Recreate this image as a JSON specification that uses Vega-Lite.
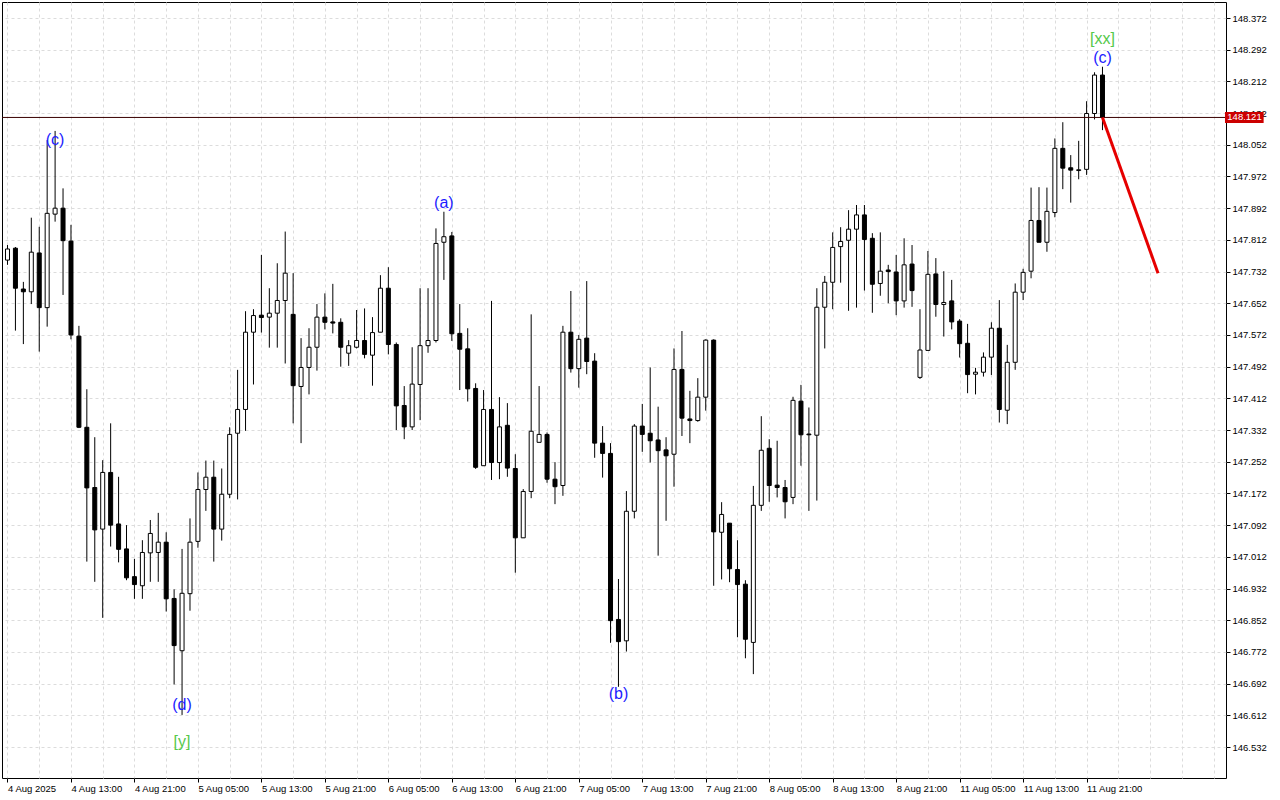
{
  "$schema": "https://vega.github.io/schema/vega-lite/v6.json",
  "width": 1224,
  "height": 776,
  "autosize": {"type": "none"},
  "padding": {"left": 2, "top": 2, "right": 54, "bottom": 22},
  "background": "#ffffff",
  "config": {
    "view": {"stroke": "#000000", "strokeWidth": 1, "fill": "#ffffff"},
    "axis": {"domain": false, "labelFont": "Liberation Sans", "labelFontSize": 9.5, "labelColor": "#000000", "tickColor": "#000000", "gridColor": "#dcdcdc", "gridDash": [3, 3], "gridWidth": 1}
  },
  "datasets": {
    "candles": [
      {"k":0,"o":147.761,"h":147.799,"l":147.749,"c":147.789},
      {"k":1,"o":147.791,"h":147.794,"l":147.583,"c":147.690},
      {"k":2,"o":147.688,"h":147.706,"l":147.549,"c":147.681},
      {"k":3,"o":147.681,"h":147.868,"l":147.650,"c":147.781},
      {"k":4,"o":147.779,"h":147.845,"l":147.530,"c":147.641},
      {"k":5,"o":147.641,"h":148.064,"l":147.593,"c":147.879},
      {"k":6,"o":147.877,"h":148.087,"l":147.858,"c":147.892},
      {"k":7,"o":147.892,"h":147.942,"l":147.673,"c":147.810},
      {"k":8,"o":147.809,"h":147.850,"l":147.561,"c":147.572},
      {"k":9,"o":147.569,"h":147.595,"l":147.337,"c":147.339},
      {"k":10,"o":147.339,"h":147.435,"l":147.000,"c":147.186},
      {"k":11,"o":147.187,"h":147.314,"l":146.949,"c":147.080},
      {"k":12,"o":147.082,"h":147.256,"l":146.858,"c":147.225},
      {"k":13,"o":147.225,"h":147.349,"l":147.038,"c":147.092},
      {"k":14,"o":147.095,"h":147.214,"l":146.998,"c":147.031},
      {"k":15,"o":147.032,"h":147.092,"l":146.953,"c":146.959},
      {"k":16,"o":146.962,"h":147.007,"l":146.906,"c":146.942},
      {"k":17,"o":146.939,"h":147.054,"l":146.906,"c":147.023},
      {"k":18,"o":147.022,"h":147.105,"l":146.949,"c":147.071},
      {"k":19,"o":147.023,"h":147.123,"l":146.949,"c":147.049},
      {"k":20,"o":147.049,"h":147.074,"l":146.874,"c":146.906},
      {"k":21,"o":146.907,"h":146.930,"l":146.690,"c":146.788},
      {"k":22,"o":146.775,"h":147.032,"l":146.613,"c":146.920},
      {"k":23,"o":146.919,"h":147.109,"l":146.876,"c":147.049},
      {"k":24,"o":147.051,"h":147.225,"l":147.035,"c":147.182},
      {"k":25,"o":147.182,"h":147.255,"l":147.128,"c":147.213},
      {"k":26,"o":147.213,"h":147.255,"l":147.000,"c":147.082},
      {"k":27,"o":147.082,"h":147.235,"l":147.053,"c":147.170},
      {"k":28,"o":147.170,"h":147.339,"l":147.160,"c":147.321},
      {"k":29,"o":147.324,"h":147.484,"l":147.157,"c":147.384},
      {"k":30,"o":147.384,"h":147.632,"l":147.330,"c":147.579},
      {"k":31,"o":147.579,"h":147.637,"l":147.447,"c":147.621},
      {"k":32,"o":147.622,"h":147.774,"l":147.578,"c":147.616},
      {"k":33,"o":147.617,"h":147.690,"l":147.540,"c":147.627},
      {"k":34,"o":147.627,"h":147.753,"l":147.540,"c":147.659},
      {"k":35,"o":147.659,"h":147.833,"l":147.500,"c":147.728},
      {"k":36,"o":147.624,"h":147.728,"l":147.349,"c":147.444},
      {"k":37,"o":147.442,"h":147.564,"l":147.299,"c":147.490},
      {"k":38,"o":147.490,"h":147.589,"l":147.422,"c":147.541},
      {"k":39,"o":147.541,"h":147.650,"l":147.482,"c":147.617},
      {"k":40,"o":147.617,"h":147.677,"l":147.586,"c":147.604},
      {"k":41,"o":147.605,"h":147.701,"l":147.576,"c":147.602},
      {"k":42,"o":147.604,"h":147.614,"l":147.492,"c":147.541},
      {"k":43,"o":147.526,"h":147.559,"l":147.494,"c":147.545},
      {"k":44,"o":147.541,"h":147.635,"l":147.538,"c":147.558},
      {"k":45,"o":147.558,"h":147.639,"l":147.513,"c":147.523},
      {"k":46,"o":147.521,"h":147.617,"l":147.444,"c":147.578},
      {"k":47,"o":147.579,"h":147.723,"l":147.579,"c":147.690},
      {"k":48,"o":147.690,"h":147.743,"l":147.523,"c":147.548},
      {"k":49,"o":147.548,"h":147.553,"l":147.332,"c":147.393},
      {"k":50,"o":147.394,"h":147.443,"l":147.309,"c":147.340},
      {"k":51,"o":147.340,"h":147.541,"l":147.332,"c":147.448},
      {"k":52,"o":147.447,"h":147.690,"l":147.357,"c":147.545},
      {"k":53,"o":147.545,"h":147.690,"l":147.527,"c":147.558},
      {"k":54,"o":147.558,"h":147.841,"l":147.553,"c":147.803},
      {"k":55,"o":147.806,"h":147.883,"l":147.711,"c":147.820},
      {"k":56,"o":147.822,"h":147.832,"l":147.557,"c":147.575},
      {"k":57,"o":147.576,"h":147.650,"l":147.433,"c":147.536},
      {"k":58,"o":147.537,"h":147.589,"l":147.404,"c":147.436},
      {"k":59,"o":147.437,"h":147.450,"l":147.234,"c":147.238},
      {"k":60,"o":147.242,"h":147.433,"l":147.242,"c":147.384},
      {"k":61,"o":147.384,"h":147.658,"l":147.206,"c":147.250},
      {"k":62,"o":147.250,"h":147.415,"l":147.208,"c":147.340},
      {"k":63,"o":147.344,"h":147.400,"l":147.214,"c":147.236},
      {"k":64,"o":147.235,"h":147.271,"l":146.972,"c":147.060},
      {"k":65,"o":147.060,"h":147.183,"l":147.060,"c":147.177},
      {"k":66,"o":147.177,"h":147.624,"l":147.160,"c":147.329},
      {"k":67,"o":147.301,"h":147.443,"l":147.301,"c":147.321},
      {"k":68,"o":147.321,"h":147.326,"l":147.199,"c":147.208},
      {"k":69,"o":147.208,"h":147.251,"l":147.145,"c":147.189},
      {"k":70,"o":147.192,"h":147.595,"l":147.166,"c":147.579},
      {"k":71,"o":147.579,"h":147.683,"l":147.477,"c":147.487},
      {"k":72,"o":147.487,"h":147.572,"l":147.439,"c":147.561},
      {"k":73,"o":147.564,"h":147.708,"l":147.473,"c":147.505},
      {"k":74,"o":147.506,"h":147.526,"l":147.262,"c":147.299},
      {"k":75,"o":147.299,"h":147.342,"l":147.212,"c":147.273},
      {"k":76,"o":147.273,"h":147.299,"l":146.795,"c":146.851},
      {"k":77,"o":146.854,"h":146.956,"l":146.684,"c":146.798},
      {"k":78,"o":146.800,"h":147.178,"l":146.773,"c":147.127},
      {"k":79,"o":147.127,"h":147.347,"l":147.109,"c":147.342},
      {"k":80,"o":147.342,"h":147.398,"l":147.277,"c":147.321},
      {"k":81,"o":147.324,"h":147.490,"l":147.250,"c":147.305},
      {"k":82,"o":147.307,"h":147.391,"l":147.015,"c":147.280},
      {"k":83,"o":147.282,"h":147.314,"l":147.103,"c":147.267},
      {"k":84,"o":147.271,"h":147.538,"l":147.189,"c":147.485},
      {"k":85,"o":147.485,"h":147.582,"l":147.317,"c":147.362},
      {"k":86,"o":147.360,"h":147.431,"l":147.299,"c":147.356},
      {"k":87,"o":147.356,"h":147.463,"l":147.353,"c":147.415},
      {"k":88,"o":147.415,"h":147.561,"l":147.381,"c":147.559},
      {"k":89,"o":147.559,"h":147.561,"l":146.939,"c":147.075},
      {"k":90,"o":147.074,"h":147.150,"l":146.955,"c":147.119},
      {"k":91,"o":147.097,"h":147.097,"l":146.948,"c":146.982},
      {"k":92,"o":146.980,"h":147.054,"l":146.809,"c":146.942},
      {"k":93,"o":146.943,"h":146.953,"l":146.756,"c":146.804},
      {"k":94,"o":146.796,"h":147.191,"l":146.716,"c":147.142},
      {"k":95,"o":147.142,"h":147.367,"l":147.128,"c":147.281},
      {"k":96,"o":147.286,"h":147.309,"l":147.151,"c":147.192},
      {"k":97,"o":147.193,"h":147.305,"l":147.162,"c":147.187},
      {"k":98,"o":147.187,"h":147.206,"l":147.109,"c":147.151},
      {"k":99,"o":147.162,"h":147.416,"l":147.145,"c":147.407},
      {"k":100,"o":147.405,"h":147.446,"l":147.242,"c":147.320},
      {"k":101,"o":147.322,"h":147.389,"l":147.128,"c":147.320},
      {"k":102,"o":147.319,"h":147.690,"l":147.154,"c":147.642},
      {"k":103,"o":147.642,"h":147.721,"l":147.538,"c":147.705},
      {"k":104,"o":147.705,"h":147.831,"l":147.637,"c":147.793},
      {"k":105,"o":147.795,"h":147.844,"l":147.704,"c":147.808},
      {"k":106,"o":147.811,"h":147.887,"l":147.633,"c":147.839},
      {"k":107,"o":147.839,"h":147.900,"l":147.641,"c":147.875},
      {"k":108,"o":147.875,"h":147.900,"l":147.684,"c":147.813},
      {"k":109,"o":147.816,"h":147.829,"l":147.628,"c":147.700},
      {"k":110,"o":147.702,"h":147.831,"l":147.671,"c":147.733},
      {"k":111,"o":147.736,"h":147.749,"l":147.652,"c":147.732},
      {"k":112,"o":147.731,"h":147.774,"l":147.622,"c":147.658},
      {"k":113,"o":147.658,"h":147.816,"l":147.641,"c":147.749},
      {"k":114,"o":147.751,"h":147.799,"l":147.643,"c":147.684},
      {"k":115,"o":147.465,"h":147.637,"l":147.461,"c":147.534},
      {"k":116,"o":147.533,"h":147.784,"l":147.533,"c":147.725},
      {"k":117,"o":147.726,"h":147.766,"l":147.618,"c":147.649},
      {"k":118,"o":147.649,"h":147.733,"l":147.568,"c":147.654},
      {"k":119,"o":147.658,"h":147.711,"l":147.586,"c":147.605},
      {"k":120,"o":147.607,"h":147.612,"l":147.515,"c":147.550},
      {"k":121,"o":147.551,"h":147.600,"l":147.425,"c":147.472},
      {"k":122,"o":147.473,"h":147.489,"l":147.422,"c":147.478},
      {"k":123,"o":147.478,"h":147.528,"l":147.467,"c":147.516},
      {"k":124,"o":147.516,"h":147.604,"l":147.471,"c":147.589},
      {"k":125,"o":147.589,"h":147.660,"l":147.351,"c":147.384},
      {"k":126,"o":147.382,"h":147.547,"l":147.347,"c":147.503},
      {"k":127,"o":147.503,"h":147.702,"l":147.484,"c":147.680},
      {"k":128,"o":147.680,"h":147.739,"l":147.660,"c":147.730},
      {"k":129,"o":147.733,"h":147.944,"l":147.715,"c":147.861},
      {"k":130,"o":147.861,"h":147.945,"l":147.806,"c":147.806},
      {"k":131,"o":147.806,"h":147.944,"l":147.782,"c":147.884},
      {"k":132,"o":147.881,"h":148.068,"l":147.869,"c":148.043},
      {"k":133,"o":148.043,"h":148.109,"l":147.940,"c":147.993},
      {"k":134,"o":147.994,"h":148.026,"l":147.906,"c":147.988},
      {"k":135,"o":147.987,"h":148.062,"l":147.965,"c":147.989},
      {"k":136,"o":147.990,"h":148.162,"l":147.976,"c":148.131},
      {"k":137,"o":148.131,"h":148.235,"l":148.116,"c":148.228},
      {"k":138,"o":148.228,"h":148.249,"l":148.089,"c":148.121}
    ],
    "notes": [
      {"k":6,"p":148.064,"t":"(c)","g":"wave"},
      {"k":55,"p":147.905,"t":"(a)","g":"wave"},
      {"k":22,"p":146.638,"t":"(d)","g":"wave"},
      {"k":22,"p":146.545,"t":"[y]","g":"degree"},
      {"k":77,"p":146.666,"t":"(b)","g":"wave"},
      {"k":138,"p":148.319,"t":"[xx]","g":"degree"},
      {"k":138,"p":148.271,"t":"(c)","g":"wave"}
    ],
    "last": [{"p":148.121}],
    "forecast": [{"k":138,"p":148.121},{"k":145,"p":147.728}]
  },
  "layer": [
    {
      "data": {"name": "candles"},
      "mark": {"type": "rule", "color": "#000000", "strokeWidth": 1},
      "encoding": {
        "x": {"field": "k", "type": "quantitative", "title": null,
          "scale": {"domain": [-0.0625, 152.9375], "nice": false, "zero": false},
          "axis": {
            "values": [0,4,8,12,16,20,24,28,32,36,40,44,48,52,56,60,64,68,72,76,80,84,88,92,96,100,104,108,112,116,120,124,128,132,136,140,144,148,152],
            "tickCount": 200,
            "grid": true, "tickSize": 4, "labelPadding": 1, "labelAlign": "left", "labelBaseline": "top", "labelFlush": false, "labelOverlap": false, "labelDx": -4,
            "tickOpacity": {"condition": {"test": "datum.value % 8 === 0 && datum.value <= 136", "value": 1}, "value": 0},
            "labelExpr": "(datum.value % 8 === 0 && datum.value <= 136) ? ['4 Aug 2025','4 Aug 13:00','4 Aug 21:00','5 Aug 05:00','5 Aug 13:00','5 Aug 21:00','6 Aug 05:00','6 Aug 13:00','6 Aug 21:00','7 Aug 05:00','7 Aug 13:00','7 Aug 21:00','8 Aug 05:00','8 Aug 13:00','8 Aug 21:00','11 Aug 05:00','11 Aug 13:00','11 Aug 21:00'][round(datum.value / 8)] : ''"
          }
        },
        "y": {"field": "l", "type": "quantitative", "title": null,
          "scale": {"domain": [146.4538, 148.4124], "nice": false, "zero": false},
          "axis": {
            "orient": "right",
            "values": [146.532,146.612,146.692,146.772,146.852,146.932,147.012,147.092,147.172,147.252,147.332,147.412,147.492,147.572,147.652,147.732,147.812,147.892,147.972,148.052,148.132,148.212,148.292,148.372],
            "tickCount": 200,
            "format": ".3f", "grid": true, "tickSize": 4, "labelPadding": 2, "labelBaseline": "middle", "labelOverlap": false, "labelFlush": false, "labelBound": false
          }
        },
        "y2": {"field": "h"}
      }
    },
    {
      "data": {"name": "candles"},
      "mark": {"type": "bar", "width": 4, "stroke": "#000000", "strokeWidth": 1, "clip": true},
      "encoding": {
        "x": {"field": "k", "type": "quantitative", "title": null},
        "y": {"field": "o", "type": "quantitative", "title": null},
        "y2": {"field": "c"},
        "fill": {"condition": {"test": "datum.c >= datum.o", "value": "#ffffff"}, "value": "#000000"}
      }
    },
    {
      "data": {"name": "last"},
      "mark": {"type": "rule", "color": "#3a0000", "strokeWidth": 1},
      "encoding": {
        "y": {"field": "p", "type": "quantitative", "title": null}
      }
    },
    {
      "data": {"name": "forecast"},
      "mark": {"type": "line", "color": "#e60000", "strokeWidth": 3},
      "encoding": {
        "x": {"field": "k", "type": "quantitative", "title": null},
        "y": {"field": "p", "type": "quantitative", "title": null}
      }
    },
    {
      "data": {"name": "notes"},
      "mark": {"type": "text", "font": "Liberation Sans", "fontSize": 16, "align": "center", "baseline": "middle"},
      "encoding": {
        "x": {"field": "k", "type": "quantitative", "title": null},
        "y": {"field": "p", "type": "quantitative", "title": null},
        "text": {"field": "t"},
        "color": {"field": "g", "type": "nominal", "scale": {"domain": ["wave", "degree"], "range": ["#1c1cff", "#55c84a"]}, "legend": null}
      }
    },
    {
      "data": {"name": "last"},
      "mark": {"type": "rule", "color": "#cc0000", "strokeWidth": 11, "strokeCap": "butt"},
      "encoding": {
        "x": {"datum": 153.44, "type": "quantitative", "title": null},
        "x2": {"datum": 158.31},
        "y": {"field": "p", "type": "quantitative", "title": null}
      }
    },
    {
      "data": {"name": "last"},
      "mark": {"type": "text", "font": "Liberation Sans", "fontSize": 9.5, "color": "#ffffff", "align": "center", "baseline": "middle"},
      "encoding": {
        "x": {"datum": 155.9, "type": "quantitative", "title": null},
        "y": {"field": "p", "type": "quantitative", "title": null},
        "text": {"field": "p", "type": "quantitative", "format": ".3f"}
      }
    }
  ]
}
